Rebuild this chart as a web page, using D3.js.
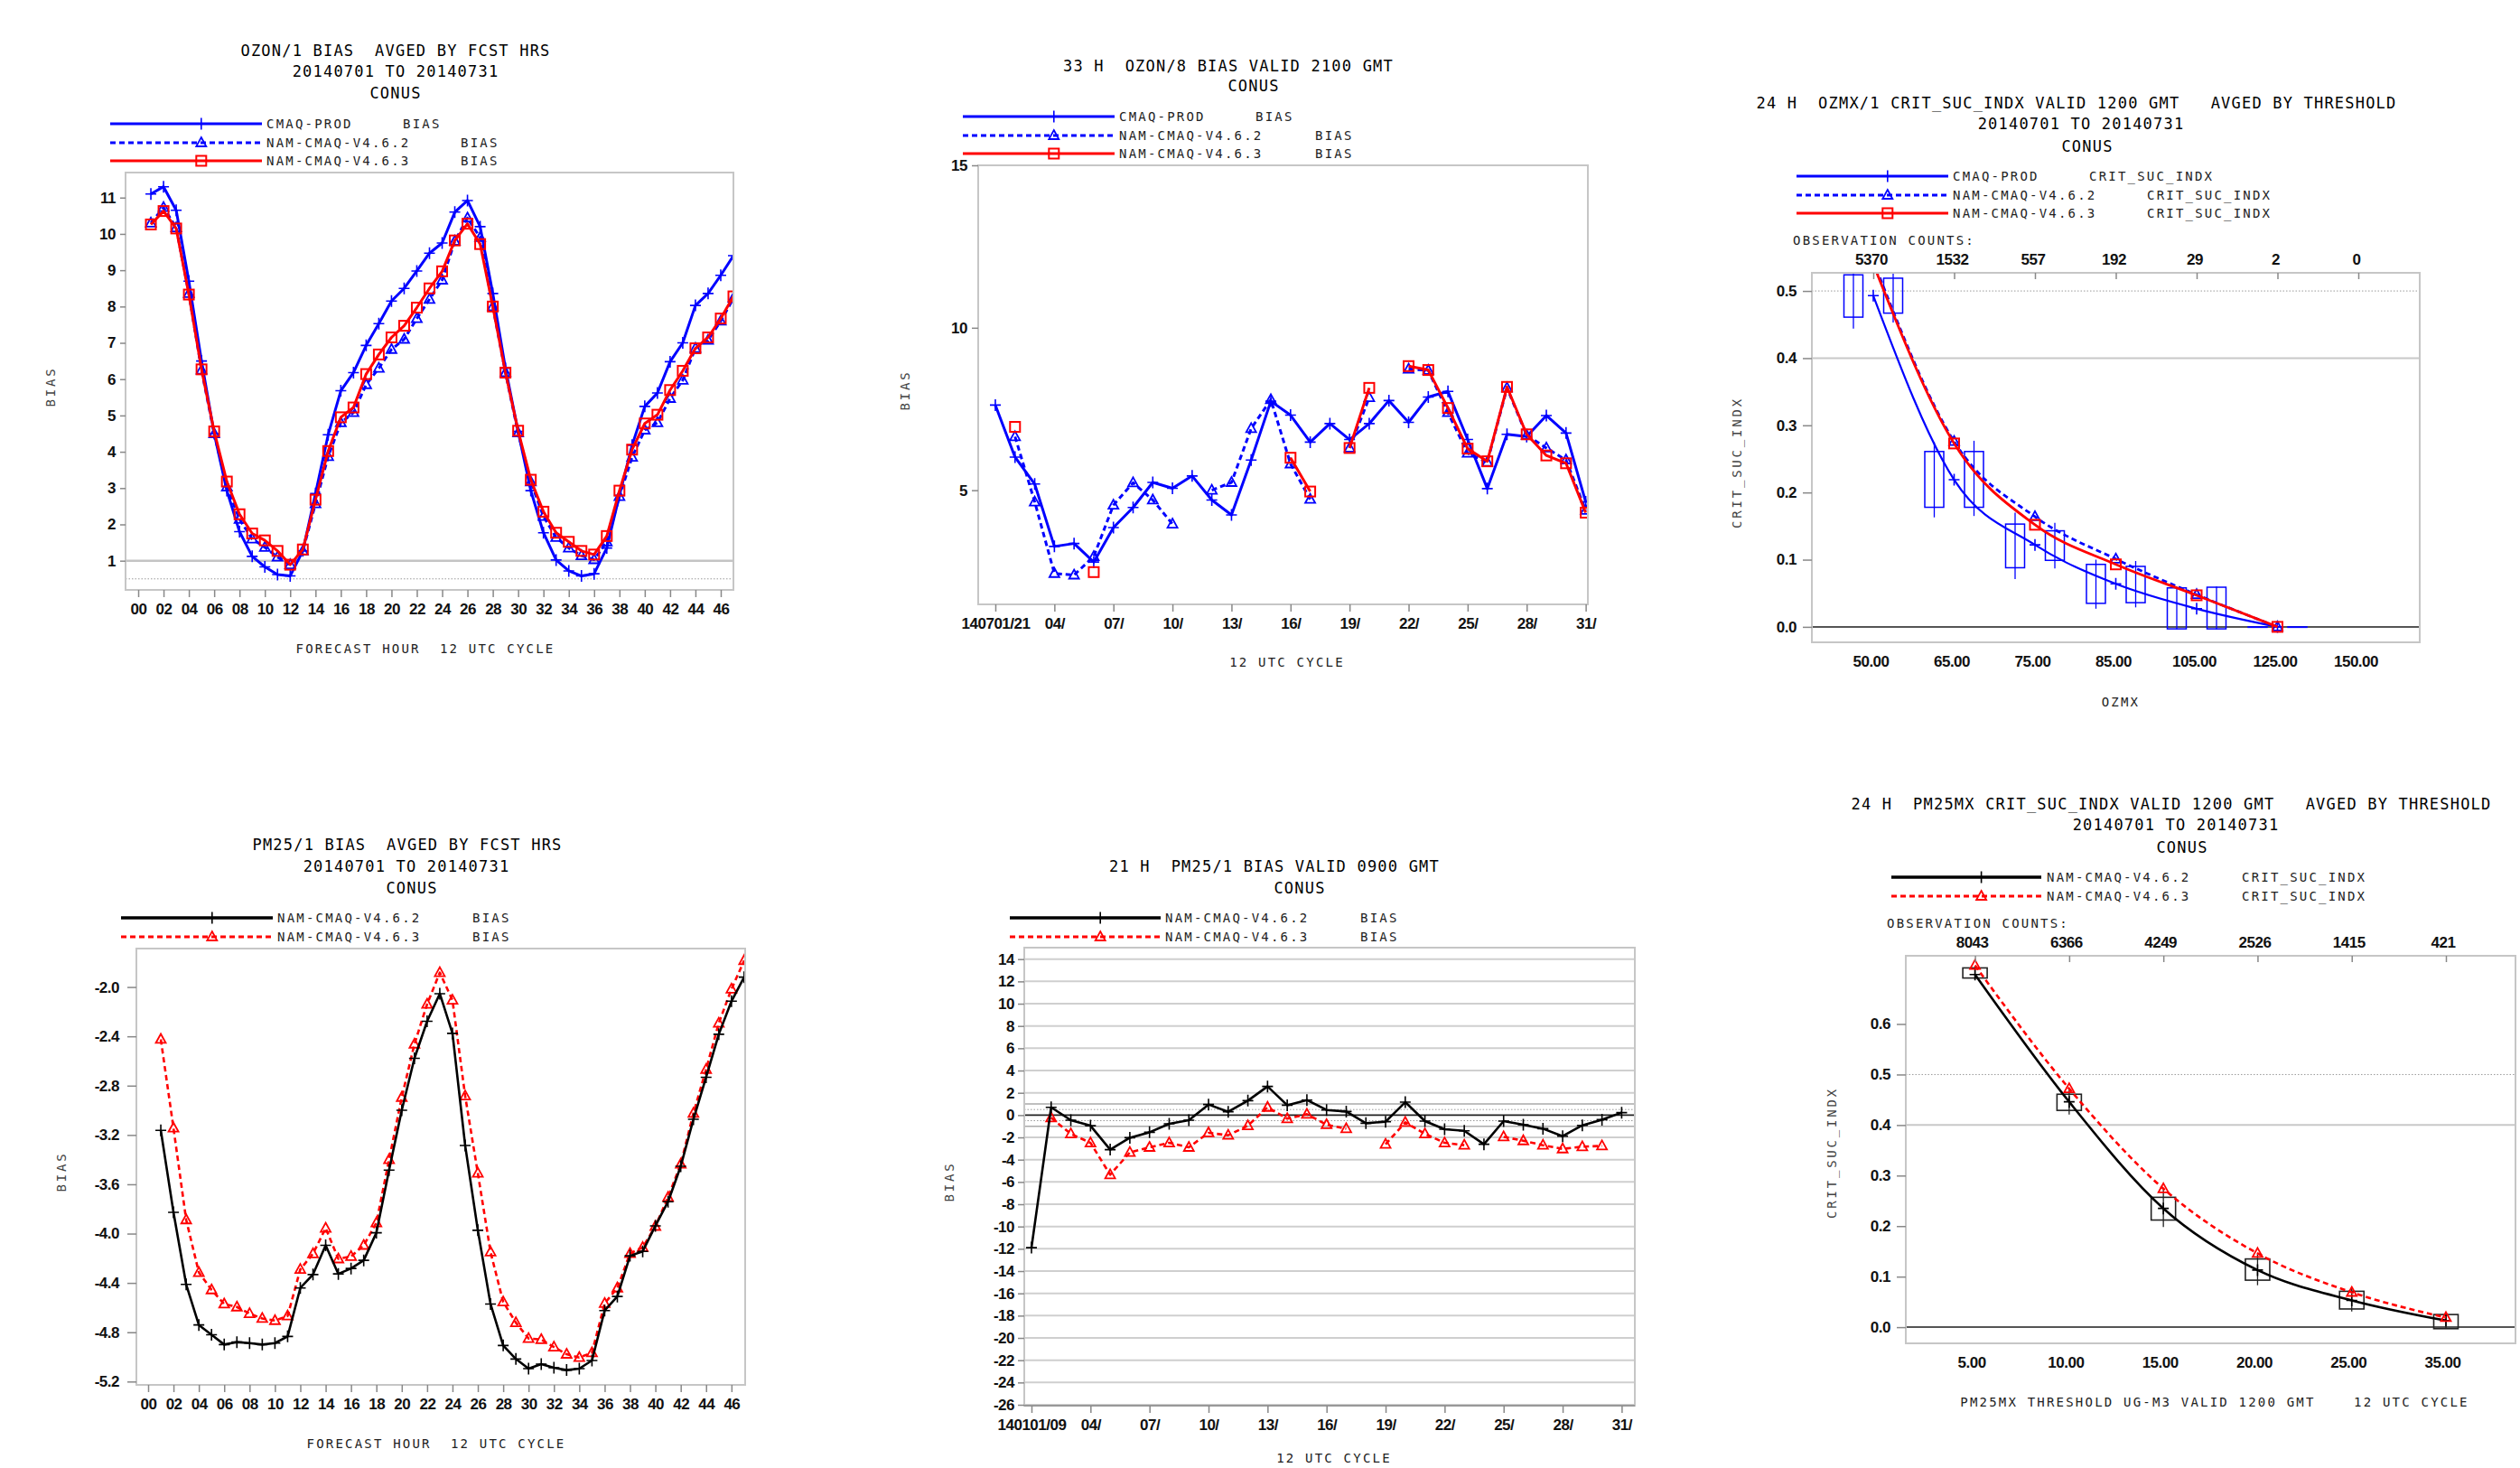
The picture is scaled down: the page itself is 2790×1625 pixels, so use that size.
<!DOCTYPE html>
<html><head><meta charset="utf-8">
<script src="https://cdn.jsdelivr.net/npm/d3@7"></script>
<style>body{margin:0;background:#fff}svg{display:block}text{white-space:pre}</style>
</head><body>
<svg id="c" width="2790" height="1625" xml:space="preserve"></svg>
<script>
// ---------------- DATA ----------------
const fcstHours = [1,2,3,4,5,6,7,8,9,10,11,12,13,14,15,16,17,18,19,20,21,22,23,24,25,26,27,28,29,30,31,32,33,34,35,36,37,38,39,40,41,42,43,44,45,46,47];
const hourTicks = [0,2,4,6,8,10,12,14,16,18,20,22,24,26,28,30,32,34,36,38,40,42,44,46];
const hourTickLabels = ["00","02","04","06","08","10","12","14","16","18","20","22","24","26","28","30","32","34","36","38","40","42","44","46"];
const days = [1,2,3,4,5,6,7,8,9,10,11,12,13,14,15,16,17,18,19,20,21,22,23,24,25,26,27,28,29,30,31];
const dayTicks = [1,4,7,10,13,16,19,22,25,28,31];

// Panel 1: OZON/1 bias by forecast hour
const p1Prod = [11.1,11.3,10.65,8.7,6.5,4.5,2.93,1.8,1.12,0.83,0.62,0.58,1.27,2.85,4.47,5.68,6.18,6.93,7.53,8.15,8.5,8.98,9.47,9.75,10.6,10.92,10.2,8.36,6.3,4.56,2.93,1.77,1.02,0.72,0.58,0.64,1.35,2.8,4.18,5.25,5.62,6.48,7.0,8.03,8.36,8.86,9.4];
const p1V462 = [10.3,10.73,10.17,8.36,6.25,4.5,3.03,2.14,1.6,1.37,1.1,0.89,1.27,2.57,3.87,4.8,5.08,5.85,6.3,6.82,7.1,7.67,8.2,8.73,9.8,10.44,9.9,8.0,6.18,4.52,3.17,2.22,1.64,1.35,1.14,1.03,1.52,2.77,3.85,4.6,4.8,5.47,5.97,6.85,7.07,7.6,8.23];
const p1V463 = [10.26,10.63,10.15,8.33,6.27,4.56,3.18,2.28,1.75,1.56,1.27,0.89,1.31,2.68,4.02,4.95,5.22,6.14,6.68,7.15,7.47,7.97,8.5,8.97,9.82,10.28,9.72,8.0,6.18,4.58,3.23,2.35,1.77,1.52,1.27,1.17,1.68,2.93,4.06,4.78,5.02,5.7,6.23,6.85,7.15,7.67,8.28];
const p1YTicks = [1,2,3,4,5,6,7,8,9,10,11];

// Panel 2: 33 H OZON/8 bias by day
const p2Prod = [7.62,6.02,5.19,3.27,3.36,2.79,3.85,4.47,5.24,5.06,5.44,4.7,4.24,5.93,7.74,7.31,6.48,7.05,6.56,7.05,7.76,7.09,7.87,8.04,6.56,5.05,6.72,6.65,7.3,6.76,4.64];
const p2V462 = [null,6.65,4.64,2.44,2.39,2.96,4.54,5.23,4.7,3.96,null,5.0,5.24,6.9,7.79,5.81,4.72,null,6.3,7.85,null,8.73,8.69,7.39,6.14,5.86,8.15,6.69,6.3,5.93,4.38];
const p2V463 = [null,6.95,null,null,null,2.48,null,null,null,null,null,null,null,null,null,6.0,4.96,null,6.3,8.15,null,8.82,8.7,7.53,6.28,5.89,8.18,6.72,6.07,5.83,4.31];
const p2XLabels = ["140701/21","04/","07/","10/","13/","16/","19/","22/","25/","28/","31/"];
const p2YTicks = [5,10,15];

// Panel 3: OZMX CSI by threshold
const p3Thresholds = ["50.00","65.00","75.00","85.00","105.00","125.00","150.00"];
const p3Counts = ["5370","1532","557","192","29","2","0"];
const p3Prod = [0.493,0.219,0.122,0.064,0.027,0.0];
const p3V462 = [0.545,0.276,0.164,0.101,0.048,0.0];
const p3V463 = [0.54,0.273,0.152,0.093,0.047,0.0];
const p3BoxLHigh = [0.524,0.261,0.153,0.093,0.058,0.0];
const p3BoxLLow  = [0.461,0.178,0.088,0.035,-0.003,0.0];
const p3WhiskLHigh = [0.56,0.275,0.17,0.1,0.06,0.0];
const p3WhiskLLow  = [0.444,0.163,0.071,0.027,-0.004,0.0];
const p3BoxRHigh = [0.519,0.261,0.143,0.09,0.059,0.0];
const p3BoxRLow  = [0.467,0.178,0.099,0.036,-0.003,0.0];
const p3WhiskRHigh = [0.56,0.277,0.155,0.098,0.06,0.0];
const p3WhiskRLow  = [0.453,0.165,0.087,0.029,-0.004,0.0];
const p3YTicks = [0.0,0.1,0.2,0.3,0.4,0.5];

// Panel 4: PM25/1 bias by forecast hour
const p4V462 = [-3.163,-3.827,-4.412,-4.741,-4.82,-4.9,-4.88,-4.888,-4.9,-4.888,-4.834,-4.441,-4.332,-4.095,-4.327,-4.283,-4.217,-3.993,-3.485,-3.0,-2.578,-2.278,-2.054,-2.376,-3.285,-3.973,-4.571,-4.907,-5.017,-5.095,-5.059,-5.088,-5.107,-5.095,-5.029,-4.624,-4.51,-4.18,-4.144,-3.937,-3.741,-3.454,-3.073,-2.732,-2.383,-2.115,-1.92];
const p4V463 = [-2.424,-3.144,-3.888,-4.315,-4.456,-4.571,-4.595,-4.649,-4.688,-4.705,-4.668,-4.29,-4.163,-3.956,-4.205,-4.185,-4.095,-3.912,-3.4,-2.895,-2.463,-2.139,-1.883,-2.107,-2.883,-3.51,-4.149,-4.554,-4.722,-4.851,-4.859,-4.92,-4.978,-5.005,-4.966,-4.566,-4.441,-4.161,-4.112,-3.941,-3.705,-3.437,-3.024,-2.668,-2.293,-2.017,-1.785];
const p4YTicks = [-5.2,-4.8,-4.4,-4.0,-3.6,-3.2,-2.8,-2.4,-2.0];

// Panel 5: 21 H PM25/1 bias by day
const p5V462 = [-11.9,0.7,-0.46,-0.95,-3.1,-2.03,-1.54,-0.78,-0.46,0.95,0.3,1.3,2.57,0.89,1.35,0.46,0.32,-0.73,-0.59,1.16,-0.54,-1.27,-1.41,-2.62,-0.54,-0.86,-1.22,-1.89,-0.92,-0.41,0.22];
const p5V463 = [null,-0.24,-1.68,-2.49,-5.35,-3.35,-2.89,-2.49,-2.89,-1.59,-1.81,-0.95,0.7,-0.32,0.08,-0.86,-1.22,null,-2.62,-0.65,-1.68,-2.49,-2.7,null,-1.95,-2.3,-2.7,-3.03,-2.84,-2.76,null];
const p5XLabels = ["140101/09","04/","07/","10/","13/","16/","19/","22/","25/","28/","31/"];
const p5YTicks = [-26,-24,-22,-20,-18,-16,-14,-12,-10,-8,-6,-4,-2,0,2,4,6,8,10,12,14];

// Panel 6: PM25MX CSI by threshold
const p6Thresholds = ["5.00","10.00","15.00","20.00","25.00","35.00"];
const p6Counts = ["8043","6366","4249","2526","1415","421"];
const p6V462 = [0.698,0.446,0.235,0.113,0.053,0.013];
const p6V463 = [0.716,0.472,0.274,0.146,0.069,0.019];
const p6BoxHigh = [0.711,0.461,0.257,0.135,0.071,0.025];
const p6BoxLow  = [0.691,0.429,0.212,0.093,0.036,-0.003];
const p6WhiskHigh = [0.715,0.47,0.273,0.144,0.077,0.028];
const p6WhiskLow  = [0.688,0.421,0.198,0.083,0.031,-0.003];
const p6YTicks = [0.0,0.1,0.2,0.3,0.4,0.5,0.6];

// ---------------- DRAWING ----------------
const svg = d3.select("#c");
const MONO = "'DejaVu Sans Mono', monospace";
const SANS = "'Liberation Sans', Arial, sans-serif";
const BLUE = "#0000ff", RED = "#ff0000", BLACK = "#000000";
const FRAME = "#c6c6c6";
const hy = s => String(s).replace("\u2212","-");

function txt(g, x, y, s, o = {}) {
  return g.append("text").attr("x", x).attr("y", y).attr("dy", "0.35em")
    .attr("xml:space", "preserve")
    .attr("text-anchor", o.anchor || "middle")
    .attr("font-family", o.family || MONO)
    .attr("font-size", o.size || 14)
    .attr("font-weight", o.weight || "normal")
    .attr("letter-spacing", o.ls != null ? o.ls : 2.2)
    .attr("fill", o.fill || "#222")
    .attr("transform", o.rotate ? `rotate(-90,${x},${y})` : null)
    .text(s);
}
function title(g, x, y, s) { return txt(g, x, y, s, {size: 17, ls: 1.2, fill: "#000"}); }

function marker(g, type, x, y, color) {
  if (type === "plus") {
    g.append("path").attr("d", `M${x-6},${y}H${x+6}M${x},${y-6.5}V${y+6.5}`)
      .attr("stroke", color).attr("stroke-width", 1.6).attr("fill", "none");
  } else if (type === "tri") {
    g.append("path").attr("d", `M${x},${y-6}L${x+5.5},${y+4}L${x-5.5},${y+4}Z`)
      .attr("stroke", color).attr("stroke-width", 1.8).attr("fill", "none");
  } else if (type === "sq") {
    g.append("rect").attr("x", x-5.5).attr("y", y-5.5).attr("width", 11).attr("height", 11)
      .attr("stroke", color).attr("stroke-width", 2).attr("fill", "none");
  }
}

function series(g, xs, ys, x, y, st, curve) {
  const pts = xs.map((d, i) => [d, ys[i]]);
  const line = d3.line().defined(d => d[1] != null)
    .x(d => x(d[0])).y(d => y(d[1])).curve(curve || d3.curveLinear);
  g.append("path").attr("d", line(pts)).attr("fill", "none")
    .attr("stroke", st.color).attr("stroke-width", st.width)
    .attr("stroke-dasharray", st.dash || null)
    .attr("stroke-linejoin", "round");
  pts.filter(d => d[1] != null).forEach(d => marker(g, st.marker, x(d[0]), y(d[1]), st.color));
}

function legendRow(g, x0, x1, y, st, label, textX, suffix, suffixX) {
  g.append("line").attr("x1", x0).attr("x2", x1).attr("y1", y).attr("y2", y)
    .attr("stroke", st.color).attr("stroke-width", st.width).attr("stroke-dasharray", st.dash || null);
  marker(g, st.marker, x0 + 0.6 * (x1 - x0), y, st.color);
  txt(g, textX, y, label, {anchor: "start"});
  txt(g, suffixX, y, suffix, {anchor: "start"});
}

let clipId = 0;
function frame(g, x0, y0, x1, y1) {
  const id = "clip" + (clipId++);
  g.append("clipPath").attr("id", id).append("rect")
    .attr("x", x0).attr("y", y0).attr("width", x1 - x0).attr("height", y1 - y0);
  return id;
}
function drawFrame(g, x0, y0, x1, y1) {
  g.append("rect").attr("x", x0).attr("y", y0).attr("width", x1 - x0).attr("height", y1 - y0)
    .attr("fill", "none").attr("stroke", FRAME).attr("stroke-width", 2);
}
function hline(g, x0, x1, yv, color, w, dash) {
  g.append("line").attr("x1", x0).attr("x2", x1).attr("y1", yv).attr("y2", yv)
    .attr("stroke", color).attr("stroke-width", w).attr("stroke-dasharray", dash || null);
}
function styleAxis(ax, labelOffset, isX) {
  ax.select(".domain").remove();
  ax.selectAll(".tick line").attr("stroke", "#888").attr("stroke-width", 1.5);
  ax.selectAll("text").attr("font-family", SANS).attr("font-weight", "bold")
    .attr("font-size", 17).attr("letter-spacing", -0.5).attr("fill", "#111");
  if (isX) ax.selectAll("text").attr("y", labelOffset).attr("dy", "0.35em");
}

// ---------- Panel 1 ----------
{
  const g = svg.append("g");
  const L = 139, T = 191, R = 812, B = 653;
  const x = d3.scaleLinear([-1, 47], [L, R]);
  const y = d3.scaleLinear([0.196, 11.69], [B, T]);
  title(g, 438, 56, "OZON/1 BIAS  AVGED BY FCST HRS");
  title(g, 438, 79, "20140701 TO 20140731");
  title(g, 438, 103, "CONUS");
  const sProd = {color: BLUE, width: 3, marker: "plus"};
  const s462 = {color: BLUE, width: 3, dash: "6,4", marker: "tri"};
  const s463 = {color: RED, width: 3, marker: "sq"};
  legendRow(g, 122, 290, 137, sProd, "CMAQ-PROD", 295, "BIAS", 446);
  legendRow(g, 122, 290, 158, s462, "NAM-CMAQ-V4.6.2", 295, "BIAS", 510);
  legendRow(g, 122, 290, 178, s463, "NAM-CMAQ-V4.6.3", 295, "BIAS", 510);
  const cid = frame(g, L, T, R, B);
  hline(g, L, R, y(1), "#c4c4c4", 2.5);
  hline(g, L, R, y(0.5), "#999", 1, "1.5,2");
  const pg = g.append("g").attr("clip-path", `url(#${cid})`);
  series(pg, fcstHours, p1Prod, x, y, sProd);
  series(pg, fcstHours, p1V462, x, y, s462);
  series(pg, fcstHours, p1V463, x, y, s463);
  drawFrame(g, L, T, R, B);
  const ay = g.append("g").attr("transform", `translate(${L},0)`)
    .call(d3.axisLeft(y).tickValues(p1YTicks).tickSize(6).tickPadding(5).tickFormat(d3.format("d")));
  styleAxis(ay);
  const ax = g.append("g").attr("transform", `translate(0,${B})`)
    .call(d3.axisBottom(x).tickValues(hourTicks).tickSize(8).tickFormat((d, i) => hourTickLabels[i]));
  styleAxis(ax, 21, true);
  txt(g, 471, 718, "FORECAST HOUR  12 UTC CYCLE");
  txt(g, 56, 428, "BIAS", {rotate: true, ls: 2.8, fill: "#444"});
}

// ---------- Panel 2 ----------
{
  const g = svg.append("g");
  const L = 1083, T = 183, R = 1758, B = 669;
  const x = d3.scaleLinear([0.128, 31.11], [L, R]);
  const y = d3.scaleLinear([1.487, 15], [B, T]);
  title(g, 1360, 73, "33 H  OZON/8 BIAS VALID 2100 GMT");
  title(g, 1388, 95, "CONUS");
  const sProd = {color: BLUE, width: 3, marker: "plus"};
  const s462 = {color: BLUE, width: 3, dash: "6,4", marker: "tri"};
  const s463 = {color: RED, width: 3, marker: "sq"};
  legendRow(g, 1066, 1234, 129, sProd, "CMAQ-PROD", 1239, "BIAS", 1390);
  legendRow(g, 1066, 1234, 150, s462, "NAM-CMAQ-V4.6.2", 1239, "BIAS", 1456);
  legendRow(g, 1066, 1234, 170, s463, "NAM-CMAQ-V4.6.3", 1239, "BIAS", 1456);
  const cid = frame(g, L, T, R, B);
  const pg = g.append("g").attr("clip-path", `url(#${cid})`);
  series(pg, days, p2Prod, x, y, sProd);
  series(pg, days, p2V462, x, y, s462);
  series(pg, days, p2V463, x, y, s463);
  drawFrame(g, L, T, R, B);
  const ay = g.append("g").attr("transform", `translate(${L},0)`)
    .call(d3.axisLeft(y).tickValues(p2YTicks).tickSize(7).tickPadding(5).tickFormat(d3.format("d")));
  styleAxis(ay);
  const ax = g.append("g").attr("transform", `translate(0,${B})`)
    .call(d3.axisBottom(x).tickValues(dayTicks).tickSize(8).tickFormat((d, i) => p2XLabels[i]));
  styleAxis(ax, 21, true);
  txt(g, 1425, 733, "12 UTC CYCLE");
  txt(g, 1002, 432, "BIAS", {rotate: true, ls: 2.8, fill: "#444"});
}

// ---------- Panel 3 ----------
{
  const g = svg.append("g");
  const L = 2006, T = 302, R = 2679, B = 711;
  const x = d3.scalePoint().domain(p3Thresholds).range([2074, 2611]);
  const y = d3.scaleLinear([-0.023, 0.527], [B, T]);
  title(g, 2299, 114, "24 H  OZMX/1 CRIT_SUC_INDX VALID 1200 GMT   AVGED BY THRESHOLD");
  title(g, 2304, 137, "20140701 TO 20140731");
  title(g, 2311, 162, "CONUS");
  const sProd = {color: BLUE, width: 2.2, marker: "plus"};
  const s462 = {color: BLUE, width: 2.8, dash: "6,4", marker: "tri"};
  const s463 = {color: RED, width: 2.8, marker: "sq"};
  legendRow(g, 1989, 2157, 195, {color: BLUE, width: 3, marker: "plus"}, "CMAQ-PROD", 2162, "CRIT_SUC_INDX", 2313);
  legendRow(g, 1989, 2157, 216, {color: BLUE, width: 3, dash: "6,4", marker: "tri"}, "NAM-CMAQ-V4.6.2", 2162, "CRIT_SUC_INDX", 2377);
  legendRow(g, 1989, 2157, 236, {color: RED, width: 3, marker: "sq"}, "NAM-CMAQ-V4.6.3", 2162, "CRIT_SUC_INDX", 2377);
  txt(g, 1985, 266, "OBSERVATION COUNTS:", {anchor: "start"});
  g.selectAll("text.cnt").data(p3Counts).enter().append("text").attr("class", "cnt")
    .attr("x", (d, i) => x(p3Thresholds[i]) - 2).attr("y", 287).attr("dy", "0.35em")
    .attr("text-anchor", "middle").attr("font-family", SANS).attr("font-weight", "bold")
    .attr("font-size", 17).attr("letter-spacing", -0.5).attr("fill", "#111").text(d => d);
  const cid = frame(g, L, T, R, B);
  hline(g, L, R, y(0.5), "#999", 1, "1.5,2");
  hline(g, L, R, y(0.4), "#c8c8c8", 2);
  hline(g, L, R, y(0.0), "#555", 2);
  const pg = g.append("g").attr("clip-path", `url(#${cid})`);
  const boxes = (hi, lo, whi, wlo, off) => {
    hi.forEach((h, i) => {
      const cx = x(p3Thresholds[i]) + off;
      pg.append("line").attr("x1", cx).attr("x2", cx).attr("y1", y(whi[i])).attr("y2", y(wlo[i]))
        .attr("stroke", BLUE).attr("stroke-width", 1.3);
      pg.append("rect").attr("x", cx - 10.5).attr("width", 21)
        .attr("y", y(h)).attr("height", Math.max(0.5, y(lo[i]) - y(h)))
        .attr("fill", "none").attr("stroke", BLUE).attr("stroke-width", 1.5);
    });
  };
  boxes(p3BoxLHigh, p3BoxLLow, p3WhiskLHigh, p3WhiskLLow, -22);
  boxes(p3BoxRHigh, p3BoxRLow, p3WhiskRHigh, p3WhiskRLow, 22);
  const used = p3Thresholds.slice(0, 6);
  series(pg, used, p3Prod, x, y, sProd, d3.curveMonotoneX);
  series(pg, used, p3V462, x, y, s462, d3.curveMonotoneX);
  series(pg, used, p3V463, x, y, s463, d3.curveMonotoneX);
  drawFrame(g, L, T, R, B);
  const at = g.append("g").attr("transform", `translate(0,${T})`)
    .call(d3.axisTop(x).tickSize(-7).tickFormat(""));
  styleAxis(at);
  const ay = g.append("g").attr("transform", `translate(${L},0)`)
    .call(d3.axisLeft(y).tickValues(p3YTicks).tickSize(10).tickPadding(7).tickFormat(d3.format(".1f")));
  styleAxis(ay);
  const ax = g.append("g").attr("transform", `translate(-3,${B})`)
    .call(d3.axisBottom(x).tickSize(0));
  styleAxis(ax, 21, true);
  txt(g, 2348, 777, "OZMX");
  txt(g, 1923, 512, "CRIT_SUC_INDX", {rotate: true, ls: 2.8, fill: "#444"});
}

// ---------- Panel 4 ----------
{
  const g = svg.append("g");
  const L = 151, T = 1050, R = 825, B = 1533;
  const x = d3.scaleLinear([-0.926, 47.08], [L, R]);
  const y = d3.scaleLinear([-5.227, -1.688], [B, T]);
  title(g, 451, 935, "PM25/1 BIAS  AVGED BY FCST HRS");
  title(g, 450, 959, "20140701 TO 20140731");
  title(g, 456, 983, "CONUS");
  const s462 = {color: BLACK, width: 2.6, marker: "plus"};
  const s463 = {color: RED, width: 2.6, dash: "6,4", marker: "tri"};
  legendRow(g, 134, 302, 1016, {color: BLACK, width: 3.5, marker: "plus"}, "NAM-CMAQ-V4.6.2", 307, "BIAS", 523);
  legendRow(g, 134, 302, 1037, {color: RED, width: 3, dash: "6,4", marker: "tri"}, "NAM-CMAQ-V4.6.3", 307, "BIAS", 523);
  const cid = frame(g, L, T, R, B);
  const pg = g.append("g").attr("clip-path", `url(#${cid})`);
  series(pg, fcstHours, p4V463, x, y, s463);
  series(pg, fcstHours, p4V462, x, y, s462);
  drawFrame(g, L, T, R, B);
  const ay = g.append("g").attr("transform", `translate(${L},0)`)
    .call(d3.axisLeft(y).tickValues(p4YTicks).tickSize(10).tickPadding(9).tickFormat(d => hy(d3.format(".1f")(d))));
  styleAxis(ay);
  const ax = g.append("g").attr("transform", `translate(0,${B})`)
    .call(d3.axisBottom(x).tickValues(hourTicks).tickSize(8).tickFormat((d, i) => hourTickLabels[i]));
  styleAxis(ax, 21, true);
  txt(g, 483, 1598, "FORECAST HOUR  12 UTC CYCLE");
  txt(g, 68, 1297, "BIAS", {rotate: true, ls: 2.8, fill: "#444"});
}

// ---------- Panel 5 ----------
{
  const g = svg.append("g");
  const L = 1134, T = 1049, R = 1810, B = 1556;
  const x = d3.scaleLinear([0.633, 31.67], [L, R]);
  const y = d3.scaleLinear([-26.08, 15.03], [B, T]);
  title(g, 1411, 959, "21 H  PM25/1 BIAS VALID 0900 GMT");
  title(g, 1439, 983, "CONUS");
  const s462 = {color: BLACK, width: 2.6, marker: "plus"};
  const s463 = {color: RED, width: 2.6, dash: "6,4", marker: "tri"};
  legendRow(g, 1118, 1285, 1016, {color: BLACK, width: 3.5, marker: "plus"}, "NAM-CMAQ-V4.6.2", 1290, "BIAS", 1506);
  legendRow(g, 1118, 1285, 1037, {color: RED, width: 3, dash: "6,4", marker: "tri"}, "NAM-CMAQ-V4.6.3", 1290, "BIAS", 1506);
  const cid = frame(g, L, T, R, B);
  p5YTicks.filter(v => v !== 0).forEach(v => hline(g, L, R, y(v), "#cfcfcf", 2));
  hline(g, L, R, y(1), "#aaa", 1.5);
  hline(g, L, R, y(-1), "#aaa", 1.5);
  hline(g, L, R, y(0.5), "#999", 1, "1.5,2");
  hline(g, L, R, y(-0.5), "#999", 1, "1.5,2");
  hline(g, L, R, y(0), "#222", 1.6);
  const pg = g.append("g").attr("clip-path", `url(#${cid})`);
  series(pg, days, p5V463, x, y, s463);
  series(pg, days, p5V462, x, y, s462);
  drawFrame(g, L, T, R, B);
  hline(g, L, R, B, "#999", 2);
  const ay = g.append("g").attr("transform", `translate(${L},0)`)
    .call(d3.axisLeft(y).tickValues(p5YTicks).tickSize(7).tickPadding(4).tickFormat(d => hy(d3.format("d")(d))));
  styleAxis(ay);
  const ax = g.append("g").attr("transform", `translate(0,${B})`)
    .call(d3.axisBottom(x).tickValues(dayTicks).tickSize(8).tickFormat((d, i) => p5XLabels[i]));
  styleAxis(ax, 21, true);
  txt(g, 1477, 1614, "12 UTC CYCLE");
  txt(g, 1051, 1308, "BIAS", {rotate: true, ls: 2.8, fill: "#444"});
}

// ---------- Panel 6 ----------
{
  const g = svg.append("g");
  const L = 2110, T = 1058, R = 2785, B = 1487;
  const x = d3.scalePoint().domain(p6Thresholds).range([2186.6, 2708]);
  const y = d3.scaleLinear([-0.032, 0.735], [B, T]);
  title(g, 2404, 890, "24 H  PM25MX CRIT_SUC_INDX VALID 1200 GMT   AVGED BY THRESHOLD");
  title(g, 2409, 913, "20140701 TO 20140731");
  title(g, 2416, 938, "CONUS");
  const s462 = {color: BLACK, width: 2.6, marker: "plus"};
  const s463 = {color: RED, width: 2.6, dash: "6,4", marker: "tri"};
  legendRow(g, 2094, 2260, 971, {color: BLACK, width: 3.5, marker: "plus"}, "NAM-CMAQ-V4.6.2", 2266, "CRIT_SUC_INDX", 2482);
  legendRow(g, 2094, 2260, 992, {color: RED, width: 3, dash: "6,4", marker: "tri"}, "NAM-CMAQ-V4.6.3", 2266, "CRIT_SUC_INDX", 2482);
  txt(g, 2089, 1022, "OBSERVATION COUNTS:", {anchor: "start"});
  g.selectAll("text.cnt").data(p6Counts).enter().append("text").attr("class", "cnt")
    .attr("x", (d, i) => x(p6Thresholds[i]) - 3).attr("y", 1043).attr("dy", "0.35em")
    .attr("text-anchor", "middle").attr("font-family", SANS).attr("font-weight", "bold")
    .attr("font-size", 17).attr("letter-spacing", -0.5).attr("fill", "#111").text(d => d);
  const cid = frame(g, L, T, R, B);
  hline(g, L, R, y(0.5), "#999", 1, "1.5,2");
  hline(g, L, R, y(0.4), "#c8c8c8", 2);
  hline(g, L, R, y(0.0), "#555", 2);
  const pg = g.append("g").attr("clip-path", `url(#${cid})`);
  p6BoxHigh.forEach((h, i) => {
    const cx = x(p6Thresholds[i]);
    pg.append("line").attr("x1", cx).attr("x2", cx).attr("y1", y(p6WhiskHigh[i])).attr("y2", y(p6WhiskLow[i]))
      .attr("stroke", "#222").attr("stroke-width", 1.3);
    pg.append("rect").attr("x", cx - 13.5).attr("width", 27)
      .attr("y", y(h)).attr("height", y(p6BoxLow[i]) - y(h))
      .attr("fill", "none").attr("stroke", "#222").attr("stroke-width", 1.6);
  });
  series(pg, p6Thresholds, p6V462, x, y, s462, d3.curveMonotoneX);
  series(pg, p6Thresholds, p6V463, x, y, s463, d3.curveMonotoneX);
  drawFrame(g, L, T, R, B);
  const at = g.append("g").attr("transform", `translate(0,${T})`)
    .call(d3.axisTop(x).tickSize(-7).tickFormat(""));
  styleAxis(at);
  const ay = g.append("g").attr("transform", `translate(${L},0)`)
    .call(d3.axisLeft(y).tickValues(p6YTicks).tickSize(10).tickPadding(7).tickFormat(d3.format(".1f")));
  styleAxis(ay);
  const ax = g.append("g").attr("transform", `translate(-4,${B})`)
    .call(d3.axisBottom(x).tickSize(0));
  styleAxis(ax, 21, true);
  txt(g, 2452, 1552, "PM25MX THRESHOLD UG-M3 VALID 1200 GMT    12 UTC CYCLE");
  txt(g, 2028, 1276, "CRIT_SUC_INDX", {rotate: true, ls: 2.8, fill: "#444"});
}
</script>
</body></html>
